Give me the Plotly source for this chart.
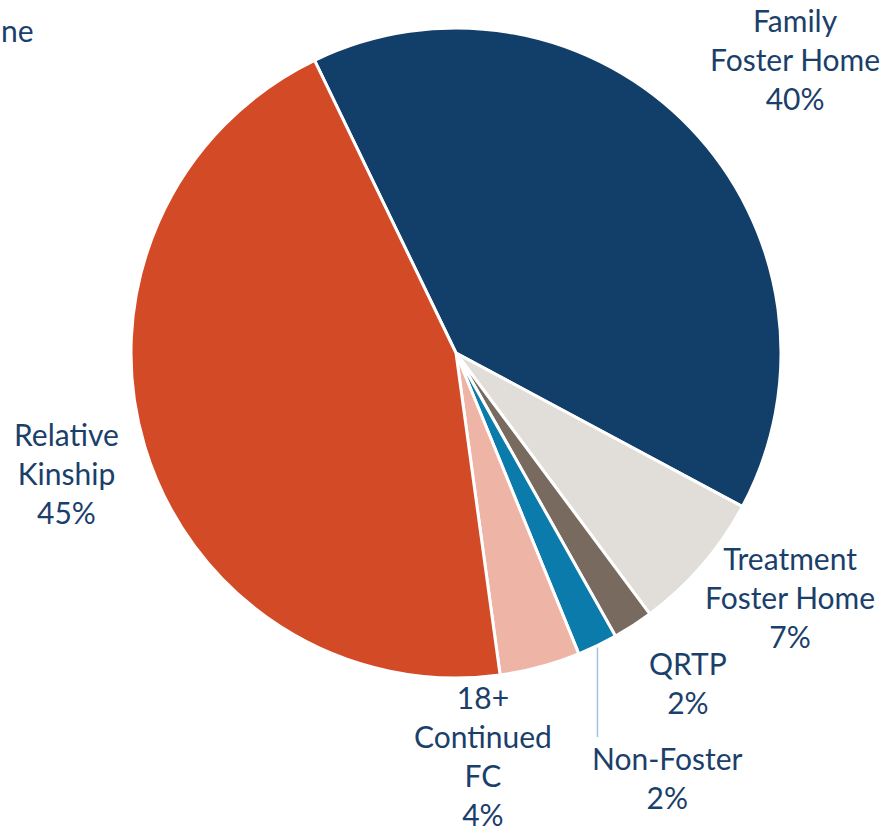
import math
import plotly.graph_objects as go

# ---- data ----
categories = ["Family<br>Foster Home", "Treatment<br>Foster Home", "QRTP", "Non-Foster",
              "18+<br>Continued<br>FC", "Relative<br>Kinship"]
values = [40, 7, 2, 2, 4, 45]
colors = ["#123F6A", "#E1DED9", "#786A5F", "#0A7BAA", "#EEB4A6", "#D34A27"]

# ---- layout constants ----
W, H = 882, 829
CX, CY, R = 456, 353, 325
ROTATION = -25.8
TEXT_COLOR = "#1B3F6B"
FONT = "Lato"
FS = 30

# label centre positions (pixels) for each category
label_pos = [(795, 59), (790, 597), (688, 682), (667, 777), (483, 755), (66, 473)]

fig = go.Figure(go.Pie(
    labels=categories,
    values=values,
    sort=False,
    direction="clockwise",
    rotation=ROTATION,
    marker=dict(colors=colors, line=dict(color="white", width=3)),
    textinfo="none",
    hoverinfo="label+percent",
    domain=dict(x=[(CX - R) / W, (CX + R) / W], y=[1 - (CY + R) / H, 1 - (CY - R) / H]),
    showlegend=False,
))

total = sum(values)
annotations = []
for cat, v, (px, py) in zip(categories, values, label_pos):
    annotations.append(dict(
        x=px / W, y=1 - py / H, xref="paper", yref="paper",
        text=f"{cat}<br>{round(100 * v / total)}%",
        showarrow=False, align="center", xanchor="center", yanchor="middle",
        borderpad=0,
        font=dict(family=FONT, size=FS, color=TEXT_COLOR),
    ))
# clipped label at the top-left edge
annotations.append(dict(
    x=0, y=1 - 30 / H, xref="paper", yref="paper", text="ne", showarrow=False,
    xanchor="left", yanchor="middle", borderpad=0,
    font=dict(family=FONT, size=FS, color=TEXT_COLOR),
))

# leader line for Non-Foster computed from the slice's mid-angle
idx = 3
mid = ROTATION + 360 * (sum(values[:idx]) + values[idx] / 2) / total
sx = CX + R * math.sin(math.radians(mid))
sy = CY - R * math.cos(math.radians(mid))
shapes = [dict(type="line", xref="paper", yref="paper",
               x0=sx / W, y0=1 - (sy + 2) / H, x1=sx / W, y1=1 - 737 / H,
               line=dict(color="#9DC3E6", width=1.5))]

fig.update_layout(
    width=W, height=H, margin=dict(l=0, r=0, t=0, b=0),
    paper_bgcolor="white", plot_bgcolor="white",
    annotations=annotations, shapes=shapes,
)
fig.write_html("out.html", config={"displayModeBar": False},
               post_script="document.body.style.margin='0';document.body.style.overflow='hidden';")
